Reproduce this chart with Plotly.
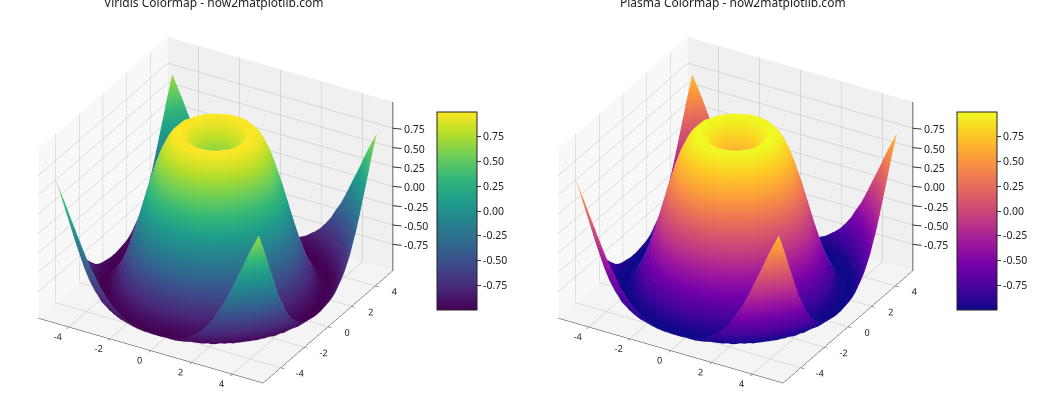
"""Two 3D surface panels with the Viridis and Plasma colormaps."""

import numpy as np
import plotly.graph_objects as go

FONT = "Noto Sans"

x_values = [-5.0, -4.75, -4.5, -4.25, -4.0, -3.75, -3.5, -3.25, -3.0, -2.75, -2.5,
            -2.25, -2.0, -1.75, -1.5, -1.25, -1.0, -0.75, -0.5, -0.25, 0.0,
            0.25, 0.5, 0.75, 1.0, 1.25, 1.5, 1.75, 2.0, 2.25, 2.5,
            2.75, 3.0, 3.25, 3.5, 3.75, 4.0, 4.25, 4.5, 4.75, 5.0]
y_values = list(x_values)
tick_values = [-4, -2, 0, 2, 4]
tick_labels = ["-4", "-2", "0", "2", "4"]
z_tick_values = [-0.75, -0.5, -0.25, 0.0, 0.25, 0.5, 0.75]
z_tick_labels = ["-0.75", "-0.50", "-0.25", "0.00", "0.25", "0.50", "0.75"]

# heights for one quadrant; each row starts on the diagonal
z_rows = [
    [0.00, 0.25, 0.48, 0.68, 0.84, 0.95, 1.00, 0.98, 0.91, 0.78, 0.60, 0.38, 0.14, -0.11, -0.35, -0.57, -0.76, -0.89, -0.98, -1.00, -0.96],
    [0.35, 0.53, 0.71, 0.86, 0.96, 1.00, 0.98, 0.90, 0.77, 0.59, 0.37, 0.13, -0.12, -0.36, -0.58, -0.76, -0.90, -0.98, -1.00, -0.96],
    [0.65, 0.78, 0.90, 0.97, 1.00, 0.97, 0.88, 0.74, 0.56, 0.34, 0.10, -0.15, -0.38, -0.60, -0.78, -0.91, -0.98, -1.00, -0.95],
    [0.87, 0.95, 0.99, 0.99, 0.94, 0.84, 0.70, 0.51, 0.29, 0.05, -0.19, -0.42, -0.63, -0.80, -0.92, -0.99, -1.00, -0.94],
    [0.99, 1.00, 0.97, 0.90, 0.79, 0.63, 0.43, 0.22, -0.02, -0.26, -0.48, -0.67, -0.83, -0.94, -0.99, -0.99, -0.93],
    [0.98, 0.93, 0.84, 0.71, 0.54, 0.34, 0.12, -0.11, -0.33, -0.55, -0.72, -0.87, -0.96, -1.00, -0.98, -0.91],
    [0.85, 0.74, 0.60, 0.42, 0.22, 0.01, -0.21, -0.42, -0.62, -0.78, -0.90, -0.98, -1.00, -0.96, -0.88],
    [0.62, 0.46, 0.29, 0.09, -0.12, -0.33, -0.52, -0.70, -0.84, -0.94, -0.99, -0.99, -0.94, -0.83],
    [0.31, 0.13, -0.06, -0.26, -0.45, -0.62, -0.78, -0.89, -0.97, -1.00, -0.98, -0.91, -0.78],
    [-0.04, -0.22, -0.40, -0.57, -0.72, -0.85, -0.94, -0.99, -1.00, -0.95, -0.85, -0.72],
    [-0.38, -0.54, -0.69, -0.82, -0.92, -0.98, -1.00, -0.98, -0.91, -0.79, -0.64],
    [-0.68, -0.80, -0.90, -0.97, -1.00, -0.99, -0.94, -0.85, -0.71, -0.55],
    [-0.89, -0.96, -0.99, -1.00, -0.96, -0.88, -0.77, -0.62, -0.43],
    [-0.99, -1.00, -0.97, -0.91, -0.80, -0.67, -0.50, -0.32],
    [-0.97, -0.91, -0.82, -0.70, -0.55, -0.37, -0.18],
    [-0.83, -0.72, -0.58, -0.41, -0.23, -0.03],
    [-0.59, -0.43, -0.26, -0.07, 0.12],
    [-0.27, -0.09, 0.09, 0.27],
    [0.08, 0.26, 0.43],
    [0.42, 0.57],
    [0.71],
]

panel_titles = ["Viridis Colormap - how2matplotlib.com", "Plasma Colormap - how2matplotlib.com"]
panel_scales = ["Viridis", "Plasma"]

# the surface repeats across the diagonal and in all four quadrants
half = np.zeros((21, 21))
for i, row in enumerate(z_rows):
    half[i, i:] = row
    half[i:, i] = row
right = np.hstack([half[:, :0:-1], half])
z_grid = np.vstack([right[:0:-1], right])

# faint seams along the grid rows and columns
seam_x, seam_y, seam_z = [], [], []
for j, y_value in enumerate(y_values):
    seam_x += x_values + [None]
    seam_y += [y_value] * len(x_values) + [None]
    seam_z += z_grid[j].tolist() + [None]
for k, x_value in enumerate(x_values):
    seam_x += [x_value] * len(y_values) + [None]
    seam_y += y_values + [None]
    seam_z += z_grid[:, k].tolist() + [None]

AXIS_MAX = 5.5
Z_MAX = 1.09


def axis_style(background):
    return dict(
        range=[-AXIS_MAX, AXIS_MAX],
        tickvals=tick_values,
        ticktext=tick_labels,
        tickangle=0,
        ticks="outside",
        ticklen=4,
        tickcolor="#333333",
        tickfont=dict(family=FONT, size=10.5, color="#222222"),
        showbackground=True,
        backgroundcolor=background,
        gridcolor="#bdbdbd",
        gridwidth=1,
        zeroline=False,
        showline=True,
        linecolor="#333333",
        linewidth=1,
        showspikes=False,
        title=dict(text=""),
    )


# plotly puts z labels on the left edge here, the reference has them on the right
z_annotations = [
    dict(
        x=AXIS_MAX - 0.01,
        y=AXIS_MAX - 0.01,
        z=value,
        text=label,
        showarrow=True,
        arrowhead=0,
        arrowwidth=1,
        arrowcolor="#333333",
        ax=9,
        ay=1,
        xanchor="left",
        yanchor="middle",
        font=dict(family=FONT, size=10.5, color="#222222"),
    )
    for value, label in zip(z_tick_values, z_tick_labels)
]

fig = go.Figure()
for i, (title, scale) in enumerate(zip(panel_titles, panel_scales)):
    offset = i * 0.4952
    scene = "scene" if i == 0 else "scene2"
    fig.add_trace(
        go.Surface(
            x=x_values,
            y=y_values,
            z=z_grid,
            colorscale=scale,
            cmin=-1.0,
            cmax=1.0,
            scene=scene,
            lighting=dict(ambient=1.0, diffuse=0.0, specular=0.0, roughness=1.0, fresnel=0.0),
            colorbar=dict(
                x=0.4066 + offset,
                xanchor="left",
                y=0.4976,
                yanchor="middle",
                len=218 / 420,
                lenmode="fraction",
                thickness=40,
                thicknessmode="pixels",
                outlinecolor="#222222",
                outlinewidth=1,
                ticks="outside",
                ticklen=4,
                tickcolor="#333333",
                tickvals=z_tick_values,
                ticktext=z_tick_labels,
                tickfont=dict(family=FONT, size=10.5, color="#222222"),
            ),
        )
    )
    fig.add_trace(
        go.Scatter3d(
            x=seam_x,
            y=seam_y,
            z=seam_z,
            mode="lines",
            line=dict(color="white", width=1),
            opacity=0.15,
            connectgaps=False,
            hoverinfo="skip",
            showlegend=False,
            scene=scene,
        )
    )
    # right hand z axis line
    fig.add_trace(
        go.Scatter3d(
            x=[AXIS_MAX, AXIS_MAX],
            y=[AXIS_MAX, AXIS_MAX],
            z=[-Z_MAX, Z_MAX],
            mode="lines",
            line=dict(color="#333333", width=1.5),
            hoverinfo="skip",
            showlegend=False,
            scene=scene,
        )
    )
    fig.add_annotation(
        text=title,
        xref="paper",
        yref="paper",
        x=213 / 1050 + offset,
        y=0.993,
        xanchor="center",
        yanchor="middle",
        showarrow=False,
        font=dict(family=FONT, size=12, color="#222222"),
    )

camera = dict(
    eye=dict(x=0.70, y=-1.213, z=0.808),
    center=dict(x=0, y=0, z=0.0),
    up=dict(x=0, y=0, z=1),
    projection=dict(type="orthographic"),
)
for i, name in enumerate(["scene", "scene2"]):
    offset = i * 0.4952
    fig.update_layout(
        {
            name: dict(
                domain=dict(x=[0.0 + offset, 0.4105 + offset], y=[0.0, 1.0]),
                camera=camera,
                aspectmode="manual",
                aspectratio=dict(x=1.237, y=1.237, z=0.928),
                xaxis=axis_style("#f8f8f8"),
                yaxis=axis_style("#f0f0f0"),
                zaxis={
                    **axis_style("#f4f4f4"),
                    "range": [-Z_MAX, Z_MAX],
                    "tickvals": z_tick_values,
                    "ticktext": z_tick_labels,
                    "ticks": "",
                    "showticklabels": False,
                    "showline": False,
                },
                annotations=z_annotations,
            )
        }
    )

fig.update_layout(
    width=1050,
    height=420,
    margin=dict(l=0, r=0, t=0, b=0),
    paper_bgcolor="white",
    showlegend=False,
)
# the page's default body margin would push the figure 8px in and clip the titles
fig.write_html(
    "out.html",
    config={"displayModeBar": False},
    post_script="document.body.style.margin = '0';",
)
